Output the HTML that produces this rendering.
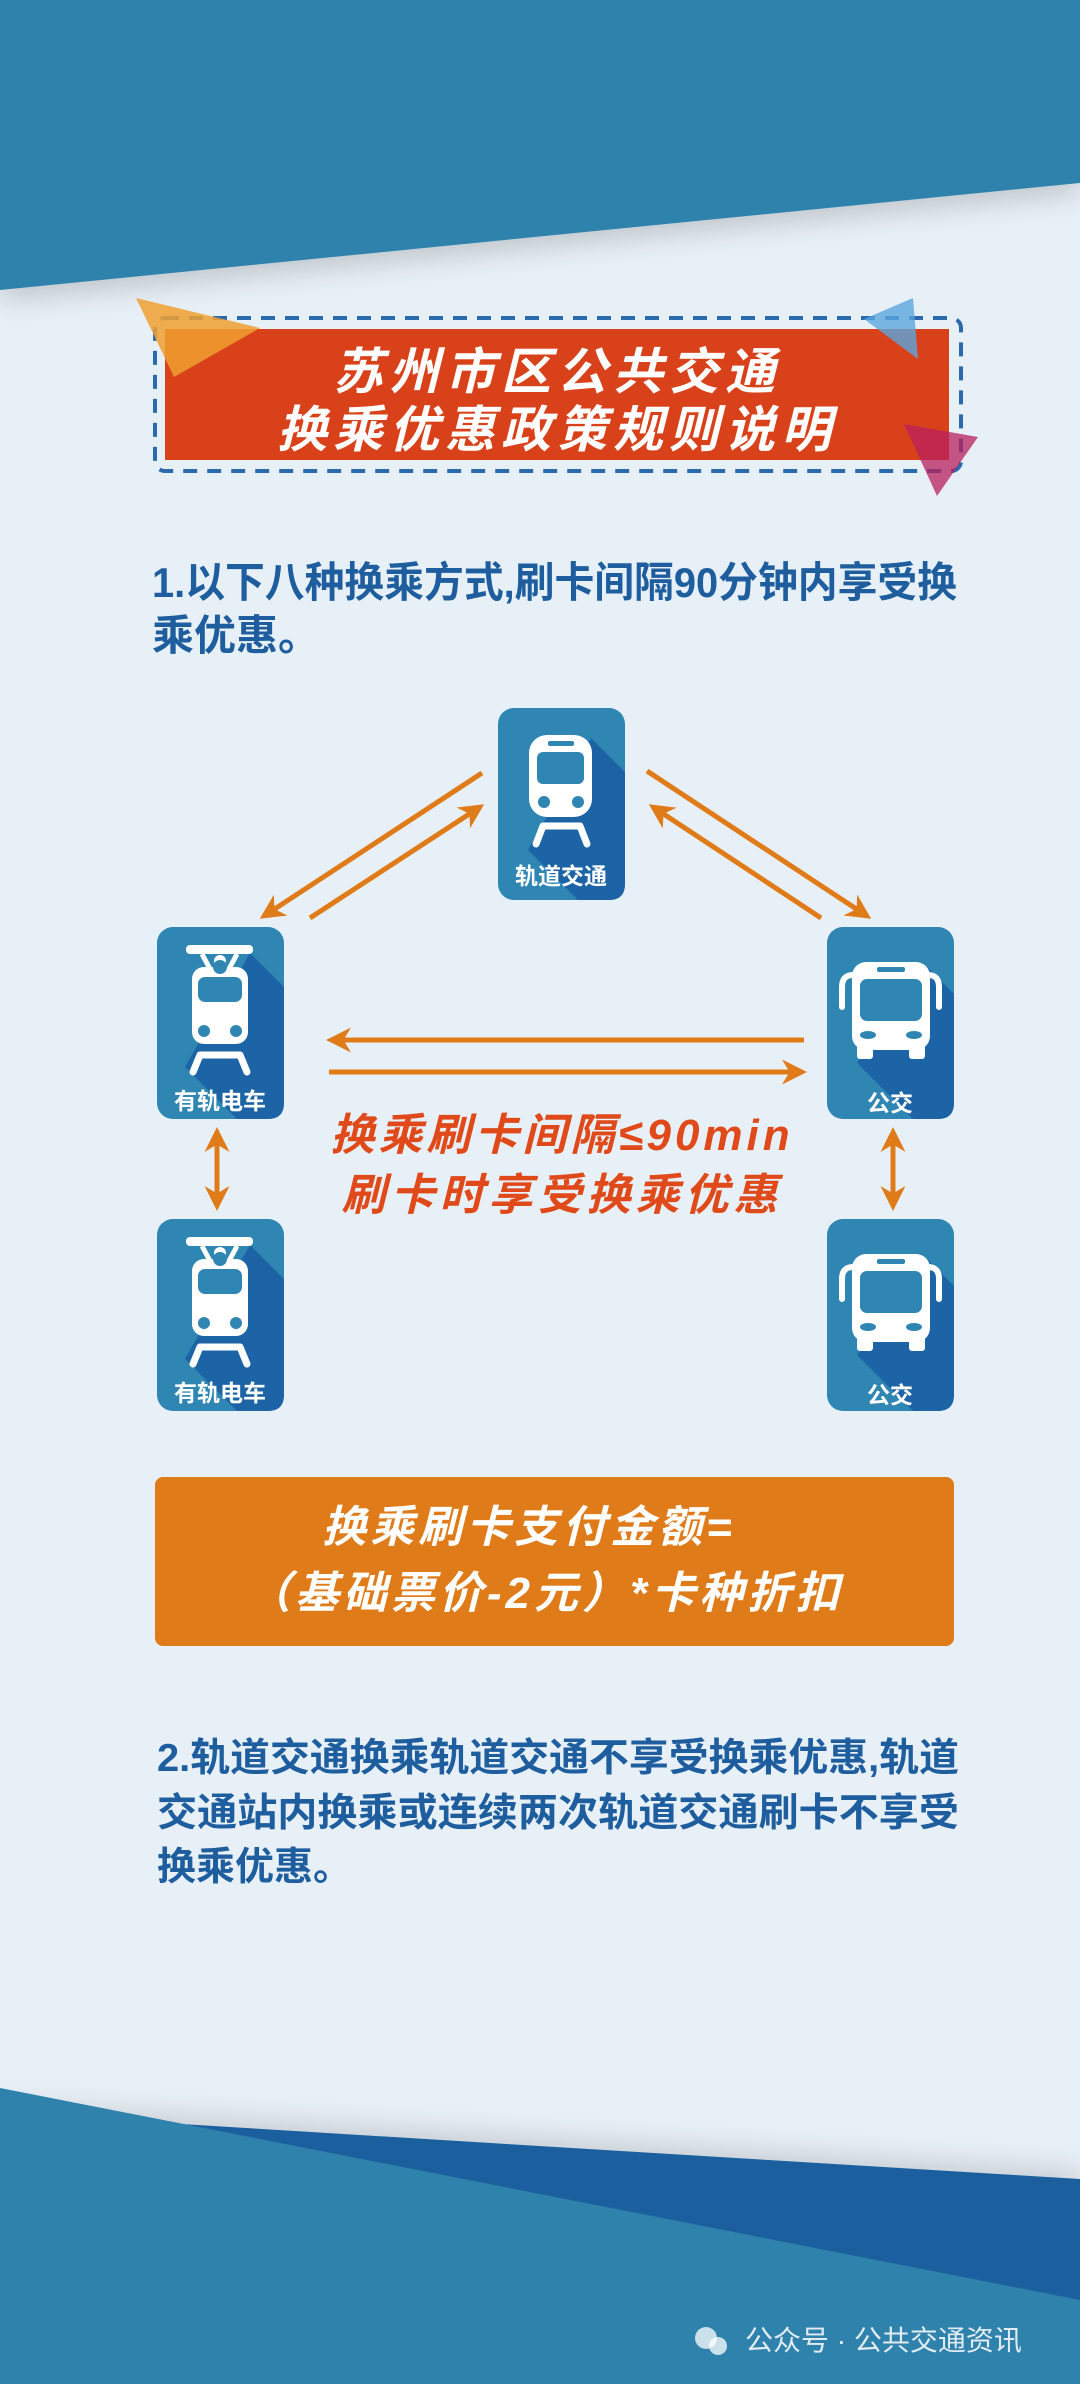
<!DOCTYPE html>
<html><head><meta charset="utf-8"><style>
html,body{margin:0;padding:0;background:#e8f0f7}
svg{display:block}
text{font-family:"Liberation Sans","Noto Sans CJK SC",sans-serif;font-weight:bold}
</style></head><body>
<svg width="1080" height="2384" viewBox="0 0 1080 2384" xmlns="http://www.w3.org/2000/svg">
<defs>
<filter id="sh" x="-10%" y="-10%" width="120%" height="130%"><feDropShadow dx="0" dy="10" stdDeviation="14" flood-color="#000" flood-opacity="0.18"/></filter>
<filter id="sh2" x="-10%" y="-30%" width="120%" height="160%"><feDropShadow dx="0" dy="-8" stdDeviation="14" flood-color="#000" flood-opacity="0.15"/></filter>
<marker id="ah" viewBox="0 0 10 10" refX="8" refY="5" markerWidth="5" markerHeight="5" orient="auto-start-reverse"><path d="M0,0 L10,5 L0,10 L3,5 z" fill="#e07b1a"/></marker>
</defs>
<rect width="1080" height="2384" fill="#e8f0f7"/>
<polygon points="0,0 1080,0 1080,183 0,290" fill="#2f82ac" filter="url(#sh)"/>

<!-- title -->
<rect x="155" y="318" width="806" height="153" rx="10" fill="none" stroke="#2a6aad" stroke-width="4" stroke-dasharray="14,10"/>
<rect x="165" y="329" width="784" height="131" fill="#d9411a"/>
<polygon points="136,298 260,328 174,377" fill="#f0a030" opacity="0.85"/>
<polygon points="913,298 864,319 918,359" fill="#5aa6dd" opacity="0.8"/>
<polygon points="904,424 978,437 937,496" fill="#b8205c" opacity="0.75"/>
<text x="557" y="389" font-size="50" fill="#fff" text-anchor="middle" font-style="italic" letter-spacing="6">苏州市区公共交通</text>
<text x="557" y="447" font-size="50" fill="#fff" text-anchor="middle" font-style="italic" letter-spacing="6">换乘优惠政策规则说明</text>

<text x="152" y="597" font-size="42" fill="#1f5e9e" textLength="805" lengthAdjust="spacingAndGlyphs">1.以下八种换乘方式,刷卡间隔90分钟内享受换</text>
<text x="152" y="650" font-size="42" fill="#1f5e9e">乘优惠。</text>

<!-- arrows -->
<g stroke="#e07b1a" stroke-width="5" fill="none">
<line x1="482" y1="773" x2="264" y2="916" marker-end="url(#ah)"/>
<line x1="310" y1="918" x2="480" y2="807" marker-end="url(#ah)"/>
<line x1="647" y1="771" x2="867" y2="916" marker-end="url(#ah)"/>
<line x1="821" y1="918" x2="653" y2="807" marker-end="url(#ah)"/>
<line x1="804" y1="1040" x2="331" y2="1040" marker-end="url(#ah)"/>
<line x1="329" y1="1072" x2="802" y2="1072" marker-end="url(#ah)"/>
<line x1="217" y1="1132" x2="217" y2="1206" marker-start="url(#ah)" marker-end="url(#ah)"/>
<line x1="893" y1="1132" x2="893" y2="1206" marker-start="url(#ah)" marker-end="url(#ah)"/>
</g>

<!-- metro node -->
<g transform="translate(498,708)">
<rect width="127" height="192" rx="16" fill="#2f86b3"/>
<path d="M93,30 L127,64 L127,176 Q127,192 111,192 L80,192 L30,142 Z" fill="#1c64a6"/>
<rect x="31" y="27" width="63" height="82" rx="18" fill="#fff"/>
<rect x="39" y="44" width="47" height="32" rx="6" fill="#2f86b3"/>
<rect x="50" y="33" width="26" height="5" rx="2" fill="#2f86b3"/>
<circle cx="46" cy="94" r="6" fill="#2f86b3"/><circle cx="80" cy="94" r="6" fill="#2f86b3"/>
<path d="M38,136 L45,118 H82 L89,136" stroke="#fff" stroke-width="7" fill="none" stroke-linecap="round" stroke-linejoin="round"/>
<text x="63" y="176" font-size="23" fill="#fff" text-anchor="middle">轨道交通</text>
</g>

<!-- tram nodes -->
<g id="tram" transform="translate(157,927)">
<rect width="127" height="192" rx="16" fill="#2f86b3"/>
<path d="M93,26 L127,60 L127,176 Q127,192 111,192 L80,192 L28,140 Z" fill="#1c64a6"/>
<rect x="29" y="18" width="67" height="9" rx="4" fill="#fff"/>
<path d="M45,27 L53,42 M80,27 L72,42" stroke="#fff" stroke-width="5"/>
<circle cx="63" cy="34" r="6" fill="#fff"/>
<rect x="35" y="40" width="56" height="77" rx="12" fill="#fff"/>
<circle cx="63" cy="40" r="7" fill="#2f86b3"/>
<rect x="41" y="50" width="44" height="25" rx="7" fill="#2f86b3"/>
<circle cx="47" cy="104" r="6" fill="#2f86b3"/><circle cx="79" cy="104" r="6" fill="#2f86b3"/>
<path d="M36,145 L43,128 H83 L90,145" stroke="#fff" stroke-width="7" fill="none" stroke-linecap="round" stroke-linejoin="round"/>
<text x="63" y="182" font-size="23" fill="#fff" text-anchor="middle">有轨电车</text>
</g>
<use href="#tram" transform="translate(0,292)"/>

<!-- bus nodes -->
<g id="bus" transform="translate(827,927)">
<rect width="127" height="192" rx="16" fill="#2f86b3"/>
<path d="M100,40 L127,67 L127,176 Q127,192 111,192 L86,192 L30,136 Z" fill="#1c64a6"/>
<path d="M26,48 Q15,48 15,60 V80 M101,48 Q112,48 112,60 V80" stroke="#fff" stroke-width="6" fill="none" stroke-linecap="round"/>
<rect x="25" y="35" width="78" height="88" rx="14" fill="#fff"/>
<rect x="30" y="118" width="16" height="14" rx="3" fill="#fff"/><rect x="82" y="118" width="16" height="14" rx="3" fill="#fff"/>
<rect x="50" y="40" width="28" height="5" rx="2" fill="#2f86b3"/>
<rect x="33" y="52" width="62" height="42" rx="7" fill="#2f86b3"/>
<ellipse cx="41" cy="108" rx="8" ry="4" fill="#2f86b3"/><ellipse cx="87" cy="108" rx="8" ry="4" fill="#2f86b3"/>
<text x="63" y="184" font-size="23" fill="#fff" text-anchor="middle">公交</text>
</g>
<use href="#bus" transform="translate(0,292)"/>

<text x="562" y="1150" font-size="44" fill="#e04a1a" text-anchor="middle" font-style="italic" letter-spacing="4">换乘刷卡间隔≤90min</text>
<text x="562" y="1210" font-size="44" fill="#e04a1a" text-anchor="middle" font-style="italic" letter-spacing="5">刷卡时享受换乘优惠</text>

<rect x="155" y="1477" width="799" height="169" rx="8" fill="#df7b19"/>
<text x="529" y="1542" font-size="44" fill="#fff" text-anchor="middle" font-style="italic" letter-spacing="4">换乘刷卡支付金额=</text>
<text x="545" y="1608" font-size="44" fill="#fff" text-anchor="middle" font-style="italic" letter-spacing="4">（基础票价-2元）*卡种折扣</text>

<text x="157" y="1771" font-size="39" fill="#1f5e9e" textLength="802" lengthAdjust="spacingAndGlyphs">2.轨道交通换乘轨道交通不享受换乘优惠,轨道</text>
<text x="157" y="1826" font-size="39" fill="#1f5e9e" textLength="802" lengthAdjust="spacingAndGlyphs">交通站内换乘或连续两次轨道交通刷卡不享受</text>
<text x="157" y="1880" font-size="39" fill="#1f5e9e">换乘优惠。</text>

<!-- bottom -->
<polygon points="0,2113 1080,2179 1080,2384 0,2384" fill="#1a5f9e" filter="url(#sh2)"/>
<polygon points="0,2088 1080,2300 1080,2384 0,2384" fill="#2f82ac"/>
<circle cx="706" cy="2338" r="11" fill="#fff" opacity="0.75"/><circle cx="718" cy="2346" r="9" fill="#fff" opacity="0.75"/>
<text x="745" y="2350" font-size="28" fill="#fff" opacity="0.85" style="font-weight:normal">公众号 · 公共交通资讯</text>
</svg>
</body></html>
